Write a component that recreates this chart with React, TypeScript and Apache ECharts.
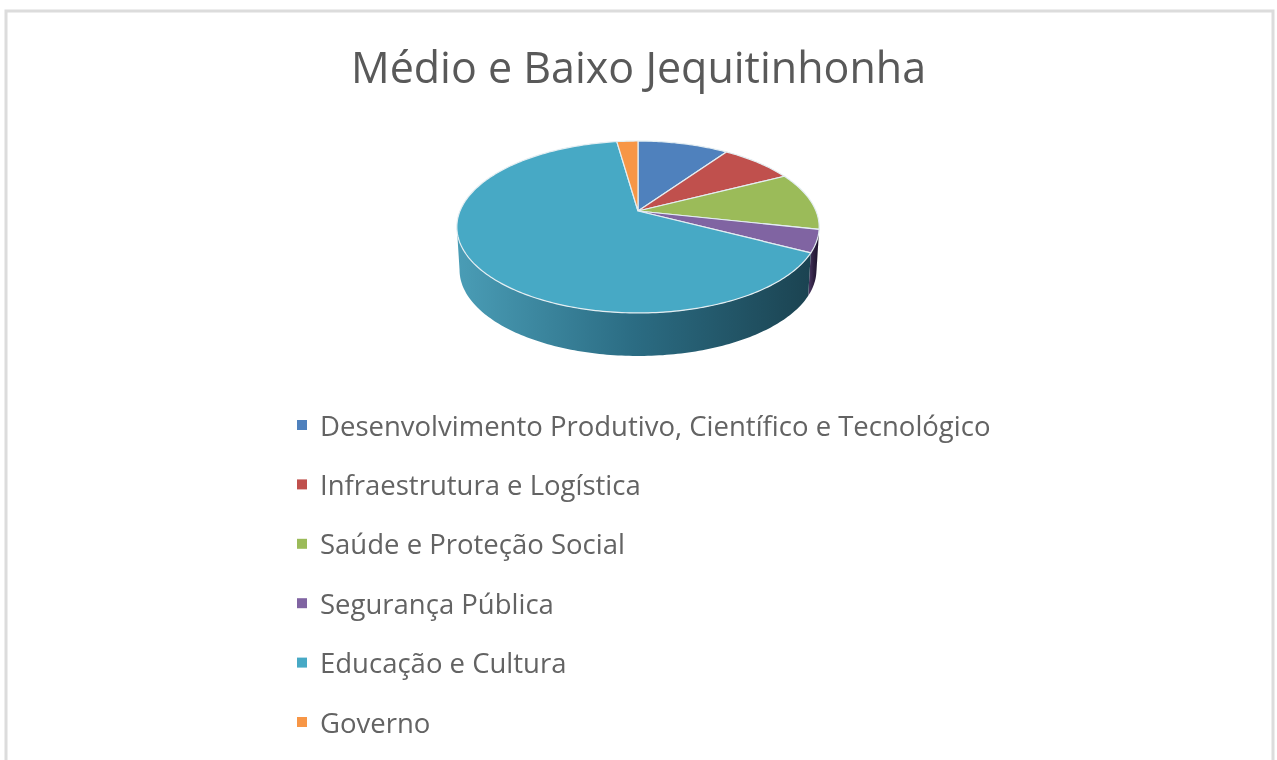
import React, { useEffect, useRef } from "react";
import * as echarts from "echarts";

const titleText = "Médio e Baixo Jequitinhonha";
const categories = [
  "Desenvolvimento Produtivo, Científico e Tecnológico",
  "Infraestrutura e Logística",
  "Saúde e Proteção Social",
  "Segurança Pública",
  "Educação e Cultura",
  "Governo",
];
const values = [9.7, 7.8, 10.9, 4.2, 65.1, 2.25];
const colors = ["#4f81bd", "#c0504d", "#9bbb59", "#8064a2", "#47a9c5", "#f79646"];
const wallLeft = ["#3d648f", "#8f3b39", "#748c43", "#4d3a66", "#4a9db6", "#b96f34"];
const wallMid = ["#2d4b6c", "#6c2c2b", "#576932", "#2e2040", "#2b6c83", "#8b5327"];
const wallRight = ["#1e324a", "#481d1c", "#3a4621", "#1a1028", "#1b4351", "#5d371a"];

const CX = 638, APEX_Y = 211, A = 178, B = 83, K = -0.186, DEPTH = 43, FLOOR = 0.985;
const total = values.reduce((s, v) => s + v, 0);

function project(deg: number): [number, number] {
  const t = (deg * Math.PI) / 180;
  const x = Math.sin(t), y = -Math.cos(t);
  const w = 1 + K * y;
  return [CX + (A * x) / w, APEX_Y + (B * y) / w];
}
function floorOf(p: [number, number]): [number, number] {
  return [CX + (p[0] - CX) * FLOOR, p[1] + DEPTH];
}
function rim(from: number, to: number): [number, number][] {
  const pts: [number, number][] = [];
  const n = Math.max(2, Math.ceil(Math.abs(to - from)));
  for (let i = 0; i <= n; i++) pts.push(project(from + ((to - from) * i) / n));
  return pts;
}

const WALL_FROM = 100.7, WALL_TO = 259.3;

function sliceRenderer(index: number) {
  return () => {
    let before = 0;
    for (let i = 0; i < index; i++) before += values[i];
    const start = (before / total) * 360;
    const end = ((before + values[index]) / total) * 360;
    const children: any[] = [];
    const a = Math.max(start, WALL_FROM), b = Math.min(end, WALL_TO);
    if (b > a) {
      const top = rim(a, b);
      const bottom = top.map(floorOf).reverse();
      children.push({
        type: "polygon",
        shape: { points: [...top, ...bottom] },
        style: {
          fill: new echarts.graphic.LinearGradient(0, 0, 1, 0, [
            { offset: 0, color: wallLeft[index] },
            { offset: 0.5, color: wallMid[index] },
            { offset: 1, color: wallRight[index] },
          ]),
          stroke: "none",
        },
      });
    }
    children.push({
      type: "polygon",
      shape: { points: [[CX, APEX_Y], ...rim(start, end)] },
      style: { fill: colors[index], stroke: "#e4eef2", lineWidth: 1.2 },
    });
    return { type: "group", children };
  };
}

export default function App() {
  const ref = useRef<HTMLDivElement>(null);
  useEffect(() => {
    document.body.style.margin = "0";
    const chart = echarts.init(ref.current!, null, { renderer: "svg" });
    chart.setOption({
      animation: false,
      backgroundColor: "#ffffff",
      color: colors,
      title: {
        text: titleText,
        left: "center",
        top: 40,
        textStyle: { fontFamily: "Open Sans", fontSize: 43, fontWeight: "normal", color: "#595959" },
      },
      legend: {
        orient: "vertical",
        left: 297,
        top: 411,
        padding: 0,
        icon: "rect",
        itemWidth: 10,
        itemHeight: 10,
        itemGap: 31.4,
        selectedMode: false,
        data: categories,
        textStyle: { fontFamily: "Open Sans", fontSize: 27.5, color: "#636363", padding: [0, 0, 0, 8] },
      },
      graphic: [
        {
          type: "rect",
          silent: true,
          shape: { x: 6, y: 11, width: 1267, height: 790 },
          style: { fill: "none", stroke: "#dcdcdc", lineWidth: 3 },
        },
      ],
      series: categories.map((name, i) => ({
        type: "custom",
        name,
        coordinateSystem: "none",
        itemStyle: { color: colors[i] },
        silent: true,
        data: [values[i]],
        renderItem: sliceRenderer(i),
      })),
    });
    return () => chart.dispose();
  }, []);
  return <div ref={ref} style={{ width: 1277, height: 760, filter: "blur(0.5px)" }} />;
}
